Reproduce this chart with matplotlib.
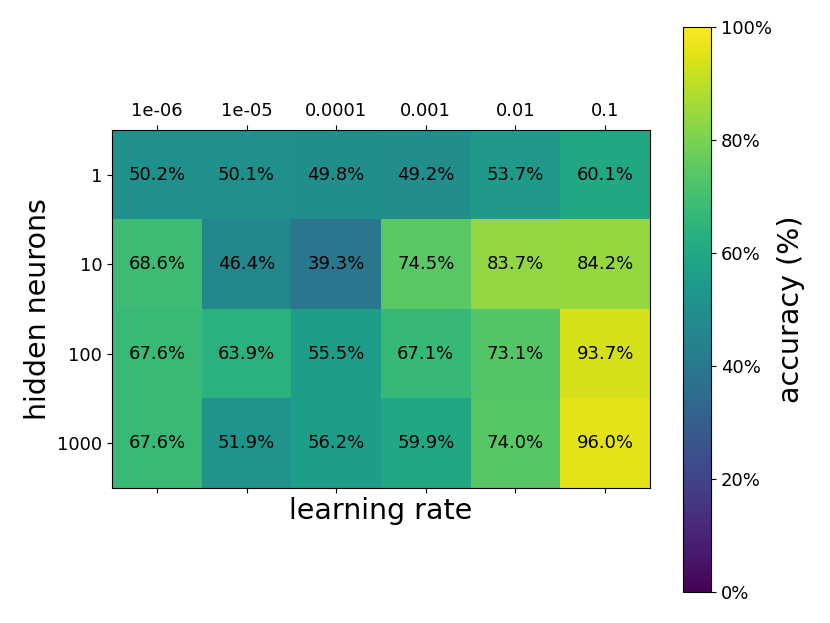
import matplotlib
matplotlib.use("Agg")
import matplotlib.pyplot as plt
import numpy as np
from matplotlib.ticker import FuncFormatter

# learning rates (columns) and hidden layer sizes (rows)
learning_rates = ["1e-06", "1e-05", "0.0001", "0.001", "0.01", "0.1"]
hidden_neurons = ["1", "10", "100", "1000"]

# accuracy (%) per cell, rows = hidden neurons
acc_1 = [50.2, 50.1, 49.8, 49.2, 53.7, 60.1]
acc_10 = [68.6, 46.4, 39.3, 74.5, 83.7, 84.2]
acc_100 = [67.6, 63.9, 55.5, 67.1, 73.1, 93.7]
acc_1000 = [67.6, 51.9, 56.2, 59.9, 74.0, 96.0]

accuracy = np.array([acc_1, acc_10, acc_100, acc_1000])

fig = plt.figure(figsize=(8.3, 6.23), dpi=100)
ax = fig.add_axes([0.135, 0.2167, 0.648, 0.5746])
cax = fig.add_axes([0.823, 0.0498, 0.0337, 0.907])

im = ax.imshow(accuracy, cmap="viridis", vmin=0, vmax=100, aspect="auto")

ax.set_xticks(np.arange(len(learning_rates)))
ax.set_yticks(np.arange(len(hidden_neurons)))
ax.set_xticklabels(learning_rates)
ax.set_yticklabels(hidden_neurons)
ax.tick_params(axis="x", top=True, bottom=True, labeltop=True, labelbottom=False)
ax.tick_params(labelsize=13)

for i in range(accuracy.shape[0]):
    for j in range(accuracy.shape[1]):
        ax.text(j, i, f"{accuracy[i, j]:.1f}%", ha="center", va="center",
                color="black", fontsize=13)

ax.set_xlabel("learning rate", fontsize=20.5, labelpad=3)
ax.set_ylabel("hidden neurons", fontsize=20.5)

cbar = fig.colorbar(im, cax=cax)
cbar.set_ticks([0, 20, 40, 60, 80, 100])
cbar.ax.yaxis.set_major_formatter(FuncFormatter(lambda v, p: f"{v:.0f}%"))
cbar.ax.tick_params(labelsize=13)
cbar.set_label("accuracy (%)", fontsize=20.5)

fig.savefig("out.png", dpi=100)
